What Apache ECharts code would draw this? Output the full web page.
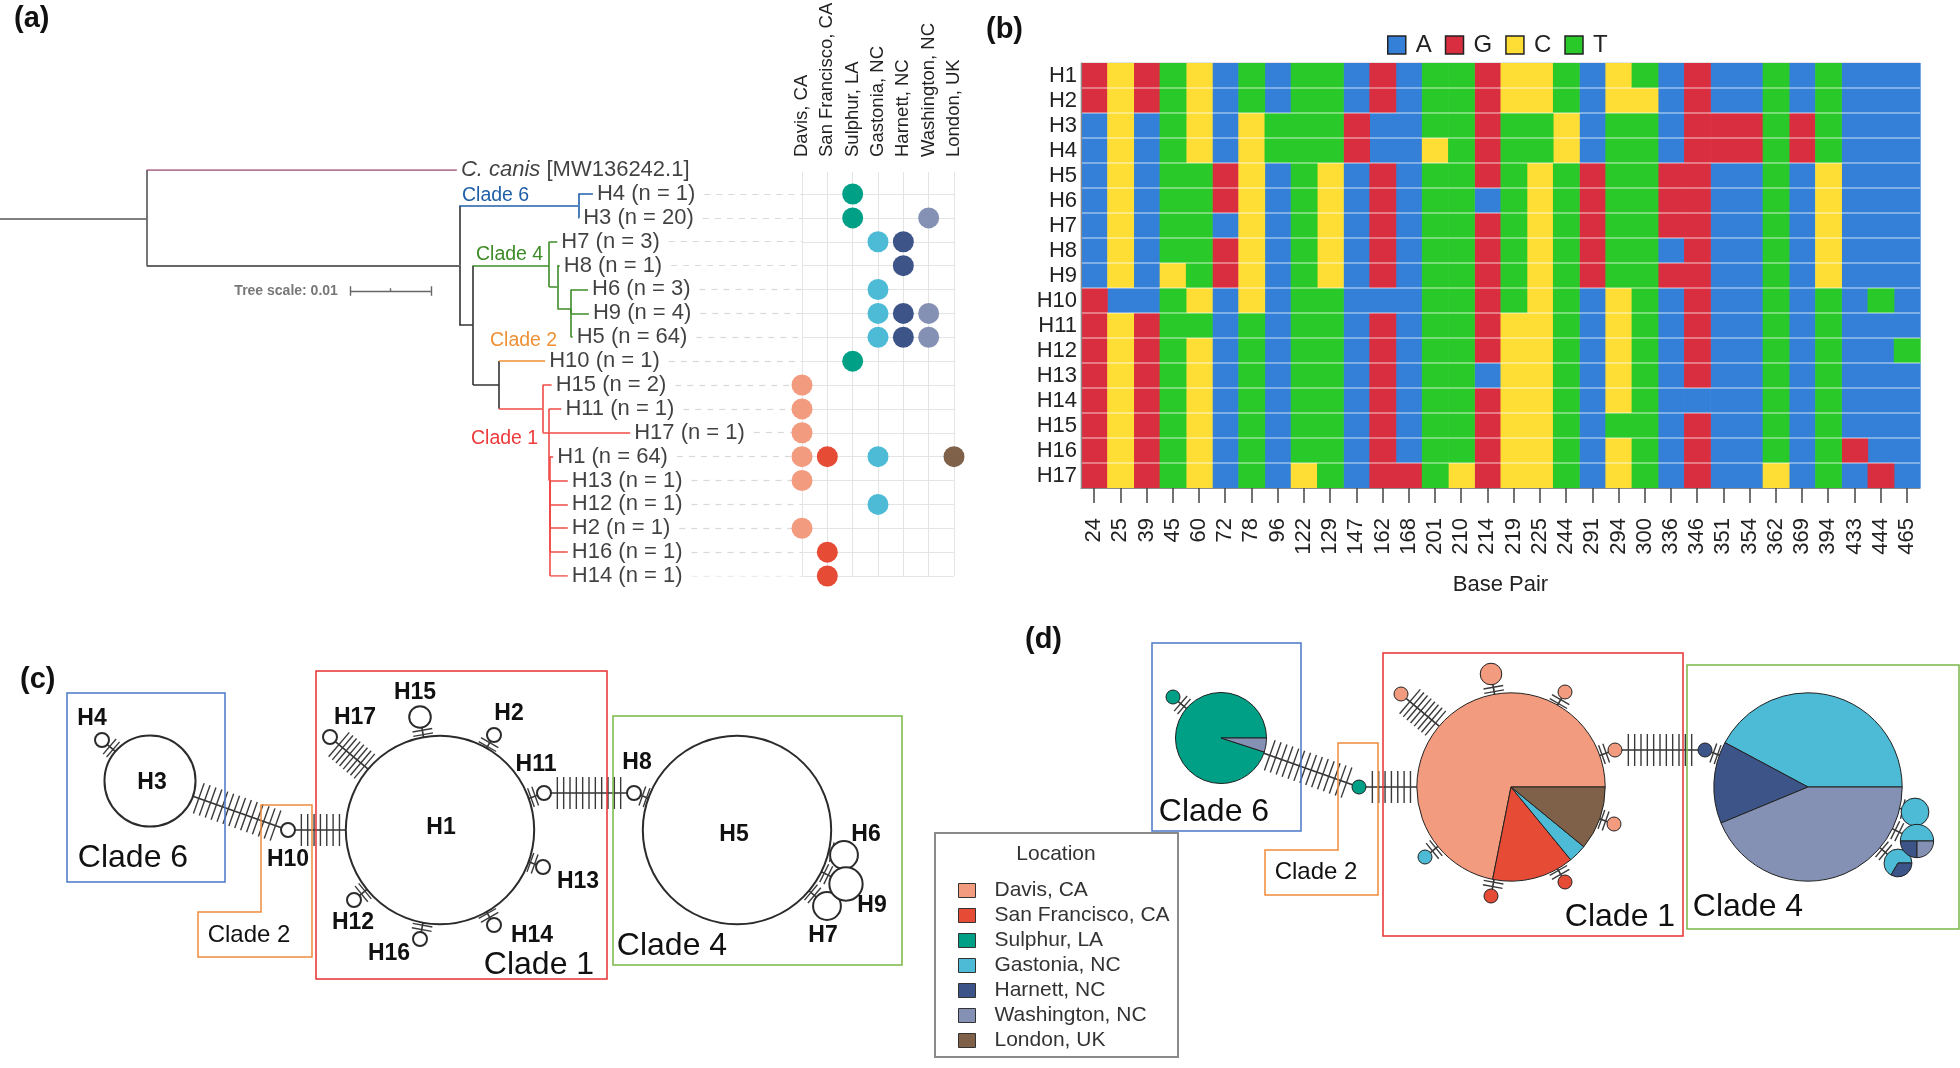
<!DOCTYPE html>
<html>
<head>
<meta charset="utf-8">
<script src="https://cdn.jsdelivr.net/npm/echarts@6/dist/echarts.min.js"></script>
<style>
html,body{margin:0;padding:0;background:#ffffff;}
#chart{width:1960px;height:1068px;}
</style>
</head>
<body>
<div id="chart"></div>
<script>
// ======================= DATA =======================
const hapIds = ['H1','H2','H3','H4','H5','H6','H7','H8','H9','H10','H11','H12','H13','H14','H15','H16','H17'];
const locations = ['Davis, CA','San Francisco, CA','Sulphur, LA','Gastonia, NC','Harnett, NC','Washington, NC','London, UK'];
// sample counts per haplotype (H1..H17) for each location
const davis        = [46,1,0,0,0,0,0,0,0,0,1,0,1,0,2,0,1];
const sanFrancisco = [9,0,0,0,0,0,0,0,0,0,0,0,0,1,0,1,0];
const sulphur      = [0,0,19,1,0,0,0,0,0,1,0,0,0,0,0,0,0];
const gastonia     = [2,0,0,0,27,3,2,0,2,0,0,1,0,0,0,0,0];
const harnett      = [0,0,0,0,9,0,1,1,1,0,0,0,0,0,0,0,0];
const washington   = [0,0,1,0,28,0,0,0,1,0,0,0,0,0,0,0,0];
const london       = [7,0,0,0,0,0,0,0,0,0,0,0,0,0,0,0,0];
const locCounts = [davis, sanFrancisco, sulphur, gastonia, harnett, washington, london];

// order of tips in the tree / dot plot
const tipOrder = ['H4','H3','H7','H8','H6','H9','H5','H10','H15','H11','H17','H1','H13','H12','H2','H16','H14'];

// variable sites (panel b)
const basePositions = ['24','25','39','45','60','72','78','96','122','129','147','162','168','201','210','214','219','225','244','291','294','300','336','346','351','354','362','369','394','433','444','465'];
const bases = ['A','G','C','T'];
const alignment = [
  'GCGTCATATTAGATTGCCTACTAGAATATAAA', // H1
  'GCGTCATATTAGATTGCCTACCAGAATATAAA', // H2
  'ACATCACTTTGAATTGTTCATTAGGGTGTAAA', // H3
  'ACATCACTTTGAACTGTTCATTAGGGTGTAAA', // H4
  'ACATTGCATCAGATTGTCTGTTGGAATACAAA', // H5
  'ACATTGCATCAGATTATCTGTTGGAATACAAA', // H6
  'ACATTACATCAGATTGTCTGTTGGAATACAAA', // H7
  'ACATTGCATCAGATTGTCTGTTAGAATACAAA', // H8
  'ACACTGCATCAGATTGTCTGTTGGAATACAAA', // H9
  'GAATCACATTAAATTGTCTACTAGAATATATA', // H10
  'GCGTTATATTAGATTGCCTACTAGAATATAAA', // H11
  'GCGTCATATTAGATTGCCTACTAGAATATAAT', // H12
  'GCGTCATATTAGATTACCTACTAGAATATAAA', // H13
  'GCGTCATATTAGATTGCCTACTAAAATATAAA', // H14
  'GCGTCATATTAGATTGCCTATTAGAATATAAA', // H15
  'GCGTCATATTAGATTGCCTACTAGAATATGAA', // H16
  'GCGTCATACTAGGTCGCCTACTAGAACATAGA'  // H17
];

// phylogenetic tree (panel a): node, parent, depth (subst./site), row, clade
const treeNode   = ['root','N1','C. canis','N2','N6','H4','H3','N3','N4','H7','N4b','H8','N4c','H6','H9','H5','N5','H10','Nc1','H15','Nc1b','H11','H17','Nc1c','H1','H13','H12','H2','H16','H14'];
const treeParent = [null,'root','N1','N1','N2','N6','N6','N2','N3','N4','N4','N4b','N4b','N4c','N4c','N4c','N3','N5','N5','Nc1','Nc1','Nc1b','Nc1b','Nc1b','Nc1c','Nc1c','Nc1c','Nc1c','Nc1c','Nc1c'];
const treeDepth  = [0,0.0181,0.0564,0.0567,0.0714,0.0732,0.0715,0.0584,0.0678,0.0688,0.0688,0.0691,0.0705,0.0726,0.0727,0.0707,0.0616,0.0673,0.0670,0.0681,0.0678,0.0693,0.0778,0.0679,0.0683,0.0701,0.0701,0.0701,0.0701,0.0701];
const treeRow    = [1.05,1.05,-1,3.0,0.5,0,1,5.5,3.0,2,3.9,3,4.8,4,5,6,8.0,7,9.0,8,10,9,10,12,11,12,13,14,15,16];
const treeClade  = ['root','root','out','base','c6','c6','c6','base','c4','c4','c4','c4','c4','c4','c4','c4','base','c2','c1','c1','c1','c1','c1','c1','c1','c1','c1','c1','c1','c1'];
const outgroupAccession = 'MW136242.1';
const treeScaleLength = 0.01;

// haplotype networks (panels c, d): layout of H1..H17 relative to H1
const netX = [0,54,-290,-338,297,404,387,194,406,-152,104,-86,103,54,-20,-20,-110];
const netY = [0,-95,-49,-90,0,25,76,-37,54,0,-37,70,37,95,-113,109,-93];
const netEdgeFrom      = ['H4','H3','H10','H17','H15','H2','H11','H13','H14','H16','H12','H11','H8','H6','H9','H7'];
const netEdgeTo        = ['H3','H10','H1','H1','H1','H1','H1','H1','H1','H1','H1','H8','H5','H5','H5','H5'];
const netEdgeMutations = [2,14,7,8,2,2,2,2,2,2,2,11,2,2,2,2];

// ======================= STYLE =======================
const FONT = '"Liberation Sans", Arial, Helvetica, sans-serif';
const locColors = ['#F39B7F','#E64B35','#00A087','#4DBBD5','#3C5488','#8491B4','#7E6148'];
const baseColors = {A:'#3480D8', G:'#D82E3F', C:'#FEDE35', T:'#2AC92A'};
const cladeColor = {root:'#555555', out:'#9b4d72', base:'#333333', c6:'#1f5fa8', c4:'#3d8b27', c2:'#ef9035', c1:'#ef4b46'};
const netLabelDX = [1,15,2,-10,-3,22,-4,3,26,0,-8,-1,35,38,-5,-31,25];
const netLabelDY = [-2,-21,2,-21,5,-20,30,-30,22,30,-28,23,15,11,-24,15,-19];

const hapTotal = hapIds.map((h,i)=>locCounts.reduce((s,a)=>s+a[i],0));
const nodeRadius = n => 7*Math.pow(n,0.625);
const hIdx = h => hapIds.indexOf(h);
const tIdx = n => treeNode.indexOf(n);

// ======================= BUILD =======================
const chart = echarts.init(document.getElementById('chart'), null, {renderer:'canvas', width:1960, height:1068});

const G = o => Object.assign({containLabel:false, outerBoundsMode:'none', show:false}, o);

// tree segments
const treeSegs = [];
treeNode.forEach((n,i)=>{
  const p = treeParent[i]; if (p == null) return;
  const pi = tIdx(p);
  treeSegs.push({coords:[[treeDepth[pi],treeRow[pi]],[treeDepth[pi],treeRow[i]]], lineStyle:{color:cladeColor[treeClade[pi]]}});
  treeSegs.push({coords:[[treeDepth[pi],treeRow[i]],[treeDepth[i],treeRow[i]]], lineStyle:{color:cladeColor[treeClade[i]]}});
});
const hasChild = n => treeParent.indexOf(n) >= 0;
const tipNodes = treeNode.filter(n => n !== 'root' && !hasChild(n));
const tipLabel = n => n === 'C. canis' ? '{i|C. canis} [' + outgroupAccession + ']' : n + ' (n = ' + hapTotal[hIdx(n)] + ')';
const tipPlain = n => n === 'C. canis' ? 'C. canis [' + outgroupAccession + ']' : n + ' (n = ' + hapTotal[hIdx(n)] + ')';

// tree scale bar
const sbX = 0.0432, sbRow = 4.07;
const scaleSegs = [
  {coords:[[sbX,sbRow],[sbX+treeScaleLength,sbRow]]},
  {coords:[[sbX,sbRow-0.2],[sbX,sbRow+0.2]]},
  {coords:[[sbX+treeScaleLength,sbRow-0.2],[sbX+treeScaleLength,sbRow+0.2]]},
  {coords:[[sbX+treeScaleLength/2,sbRow-0.12],[sbX+treeScaleLength/2,sbRow]]}
];

// heatmap cells
const cellSeries = bases.map(b=>{
  const data = [];
  alignment.forEach((seq,r)=>{ for (let c=0;c<seq.length;c++) if (seq[c]===b) data.push([c,r]); });
  return {
    type:'custom', name:b, xAxisIndex:3, yAxisIndex:3, silent:true, z:2,
    itemStyle:{color:baseColors[b]},
    data,
    renderItem:(params, api)=>{
      const p = api.coord([api.value(0), api.value(1)]);
      const s = api.size([1,1]);
      return {type:'rect', shape:{x:p[0]-s[0]/2, y:p[1]-s[1]/2, width:s[0]+0.6, height:s[1]}, style:{fill:api.visual('color')}};
    }
  };
});
const sepSeries = {
  type:'custom', name:'rowSep', xAxisIndex:3, yAxisIndex:3, silent:true, z:3,
  data: hapIds.slice(1).map((h,i)=>[0,i+1]),
  renderItem:(params, api)=>{
    const r = api.value(1);
    const a = api.coord([0,r]), b = api.coord([basePositions.length-1,r]);
    const s = api.size([1,1]);
    return {type:'line', shape:{x1:a[0]-s[0]/2, y1:a[1]-s[1]/2, x2:b[0]+s[0]/2, y2:a[1]-s[1]/2}, style:{stroke:'rgba(255,255,255,0.5)', lineWidth:1.5}};
  }
};

// dot plot
const dotSeries = locations.map((loc,j)=>({
  type:'scatter', name:loc, xAxisIndex:2, yAxisIndex:2, silent:true, z:4,
  symbol:'circle', symbolSize:21, itemStyle:{color:locColors[j], opacity:1},
  data: tipOrder.filter(h=>locCounts[j][hIdx(h)]>0).map(h=>[loc,h])
}));

// network edges with mutation ticks
function edgeSeries(ax){
  return {
    type:'custom', name:'edges'+ax, xAxisIndex:ax, yAxisIndex:ax, silent:true, z:1,
    data: netEdgeFrom.map((f,i)=>[i,0]),
    renderItem:(params, api)=>{
      const i = api.value(0);
      const a = hIdx(netEdgeFrom[i]), b = hIdx(netEdgeTo[i]);
      const pa = api.coord([netX[a],netY[a]]), pb = api.coord([netX[b],netY[b]]);
      const ra = nodeRadius(hapTotal[a]), rb = nodeRadius(hapTotal[b]);
      const dx = pb[0]-pa[0], dy = pb[1]-pa[1], L = Math.hypot(dx,dy);
      const ux = dx/L, uy = dy/L;
      const s = [pa[0]+ux*ra, pa[1]+uy*ra];
      const seg = Math.max(L-ra-rb, 0);
      const e = [s[0]+ux*seg, s[1]+uy*seg];
      const k = netEdgeMutations[i];
      const half = k>=5 ? 16 : 10;
      const sp = Math.max(seg/(k+1), 4.5);
      const ch = [{type:'line', shape:{x1:s[0],y1:s[1],x2:e[0],y2:e[1]}, style:{stroke:'#333', lineWidth:1.6}}];
      for (let j=1;j<=k;j++){
        const t = seg/2 + (j-(k+1)/2)*sp;
        const cx = s[0]+ux*t, cy = s[1]+uy*t;
        ch.push({type:'line', shape:{x1:cx-uy*half, y1:cy+ux*half, x2:cx+uy*half, y2:cy-ux*half}, style:{stroke:'#3a3a3a', lineWidth:1.4}});
      }
      return {type:'group', children:ch};
    }
  };
}

// network (c): open circles
const netCSeries = {
  type:'scatter', name:'netC', xAxisIndex:4, yAxisIndex:4, silent:true, z:3,
  symbol:'circle',
  symbolSize: v => 2*nodeRadius(v[2]),
  itemStyle:{color:'#ffffff', borderColor:'#2b2b2b', borderWidth:2, opacity:1},
  label:{show:true, position:'inside', formatter:p=>p.value[3], fontFamily:FONT, fontWeight:'bold', fontSize:23, color:'#111'},
  data: hapIds.map((h,i)=>({value:[netX[i],netY[i],hapTotal[i],h], label:{offset:[netLabelDX[i],netLabelDY[i]]}}))
};

// text helpers
const T = (x,y,text,size,fill,opts={}) => ({type:'text', x, y, silent:true, z:50,
  style:Object.assign({text, fill, fontSize:size, fontFamily:FONT, fontWeight:opts.weight||'normal',
    align:opts.align||'left', verticalAlign:'middle', textAlign:opts.align||'left', textVerticalAlign:'middle'}, {})});
const R = (x,y,w,h,stroke,lw=1.5) => ({type:'rect', shape:{x,y,width:w,height:h}, silent:true, z:40, style:{fill:'none', stroke, lineWidth:lw}});
const P = (pts,stroke) => ({type:'polygon', shape:{points:pts}, silent:true, z:40, style:{fill:'none', stroke, lineWidth:1.5}});

const graphics = [
  T(14,19,'(a)',29,'#111',{weight:'bold'}),
  T(986,30,'(b)',29,'#111',{weight:'bold'}),
  T(20,680,'(c)',29,'#111',{weight:'bold'}),
  T(1025,640,'(d)',29,'#111',{weight:'bold'}),
  // clade labels on the tree
  T(462,196,'Clade 6',19.5,cladeColor.c6),
  T(476,255,'Clade 4',19.5,cladeColor.c4),
  T(490,341,'Clade 2',19.5,cladeColor.c2),
  T(471,439,'Clade 1',19.5,'#ee3a3a'),
  // panel c boxes
  R(67,693,158,189,'#4a78c8'),
  P([[261,805],[312,805],[312,957],[198,957],[198,912],[261,912]],'#ef8a3a'),
  R(316,671,291,308,'#e83030'),
  R(613,716,289,249,'#7ab648'),
  T(133,858,'Clade 6',32,'#111',{align:'center'}),
  T(249,935,'Clade 2',24,'#111',{align:'center'}),
  T(539,965,'Clade 1',32,'#111',{align:'center'}),
  T(672,946,'Clade 4',32,'#111',{align:'center'}),
  // panel d boxes
  R(1152,643,149,188,'#4a78c8'),
  P([[1338,743],[1378,743],[1378,895],[1265,895],[1265,850],[1338,850]],'#ef8a3a'),
  R(1383,653,300,283,'#e83030'),
  R(1687,665,272,264,'#7ab648'),
  T(1214,812,'Clade 6',32,'#111',{align:'center'}),
  T(1316,872,'Clade 2',24,'#111',{align:'center'}),
  T(1620,917,'Clade 1',32,'#111',{align:'center'}),
  T(1748,907,'Clade 4',32,'#111',{align:'center'}),
  // location legend box
  R(935,833,243,224,'#8a8a8a',2),
  T(1056,854,'Location',21,'#333',{align:'center'})
];

const series = [
  {type:'lines', name:'tree', coordinateSystem:'cartesian2d', xAxisIndex:0, yAxisIndex:0, polyline:false, silent:true, z:3,
   lineStyle:{width:1.6, opacity:1}, data:treeSegs},
  {type:'scatter', name:'tips', xAxisIndex:0, yAxisIndex:0, silent:true, z:4, symbolSize:0.1, itemStyle:{color:'transparent'},
   label:{show:true, position:'right', distance:4, fontFamily:FONT, fontSize:22, color:'#111',
     formatter:p=>tipLabel(p.value[2]), rich:{i:{fontStyle:'italic', fontFamily:FONT, fontSize:22, color:'#111'}}},
   data: tipNodes.map(n=>[treeDepth[tIdx(n)], treeRow[tIdx(n)], n])},
  {type:'lines', name:'scalebar', coordinateSystem:'cartesian2d', xAxisIndex:0, yAxisIndex:0, silent:true, z:3,
   lineStyle:{width:1.4, opacity:1, color:'#666'}, data:scaleSegs},
  {type:'scatter', name:'scaleLabel', xAxisIndex:0, yAxisIndex:0, silent:true, z:4, symbolSize:0.1, itemStyle:{color:'transparent'},
   label:{show:true, position:'left', distance:12, formatter:'Tree scale: ' + treeScaleLength, fontFamily:FONT, fontWeight:'bold', fontSize:14, color:'#555'},
   data:[[sbX,sbRow]]},
  ...dotSeries,
  ...cellSeries,
  sepSeries,
  edgeSeries(4),
  netCSeries,
  edgeSeries(5)
];

const option = {
  animation:false,
  backgroundColor:'#ffffff',
  textStyle:{fontFamily:FONT},
  tooltip:{show:false},
  grid:[
    G({left:0, top:170, width:810, height:406}),
    G({left:802, top:172, width:152, height:404}),
    G({left:802, top:194, width:152, height:382}),
    G({left:1081, top:63, width:839, height:425, show:true, borderColor:'#c8c8c8', borderWidth:1, backgroundColor:'transparent'}),
    G({left:0, top:620, width:960, height:400}),
    G({left:920, top:620, width:1040, height:448})
  ],
  xAxis:[
    {gridIndex:0, type:'value', min:0, max:0.1, show:false},
    {gridIndex:1, type:'category', data:locations, boundaryGap:false, position:'top',
     axisLine:{show:false}, axisTick:{show:false},
     axisLabel:{rotate:90, margin:15, fontSize:18.5, color:'#222', fontFamily:FONT, interval:0},
     splitLine:{show:true, interval:0, lineStyle:{color:'#e4e4e4', width:1}}},
    {gridIndex:2, type:'category', data:locations, boundaryGap:false, show:false},
    {gridIndex:3, type:'category', data:basePositions, boundaryGap:true, z:10,
     axisLine:{show:true, lineStyle:{color:'#8a8a8a', width:1.2}},
     axisTick:{show:true, alignWithLabel:true, interval:0, length:15, lineStyle:{color:'#444', width:1.5}},
     axisLabel:{rotate:90, margin:30, interval:0, fontSize:22, color:'#222', fontFamily:FONT},
     splitLine:{show:false},
     name:'Base Pair', nameLocation:'middle', nameGap:86, nameTextStyle:{fontSize:22, color:'#222', fontFamily:FONT}},
    {gridIndex:4, type:'value', min:-440, max:520, show:false},
    {gridIndex:5, type:'value', min:-591, max:449, show:false}
  ],
  yAxis:[
    {gridIndex:0, type:'value', min:-1, max:16, inverse:true, show:false},
    {gridIndex:1, type:'value', min:0, max:1, show:false},
    {gridIndex:2, type:'category', data:tipOrder, inverse:true, boundaryGap:false,
     axisLine:{show:false}, axisTick:{show:false}, axisLabel:{show:false},
     splitLine:{show:true, interval:0, lineStyle:{color:'#e4e4e4', width:1}}},
    {gridIndex:3, type:'category', data:hapIds, inverse:true, z:10,
     axisLine:{show:true, lineStyle:{color:'#8a8a8a', width:1.2}}, axisTick:{show:false},
     axisLabel:{margin:4, fontSize:22, color:'#222', fontFamily:FONT, interval:0}, splitLine:{show:false}},
    {gridIndex:4, type:'value', min:-210, max:190, inverse:true, show:false},
    {gridIndex:5, type:'value', min:-167, max:281, inverse:true, show:false}
  ],
  legend:[
    {data:bases, left:1382, top:28, orient:'horizontal', icon:'rect', itemWidth:18, itemHeight:18, itemGap:13,
     selectedMode:false, textStyle:{fontSize:24, color:'#222', fontFamily:FONT, padding:[0,0,0,5]},
     itemStyle:{borderColor:'#222', borderWidth:1.5}},
    {data:locations, left:953, top:875, orient:'vertical', icon:'rect', itemWidth:17, itemHeight:14, itemGap:4,
     selectedMode:false, textStyle:{fontSize:21, color:'#333', fontFamily:FONT, padding:[0,0,0,14]},
     itemStyle:{borderColor:'#333', borderWidth:1}}
  ],
  graphic:{elements:graphics},
  series
};

chart.setOption(option);

// ---- second pass: leader lines and pies placed through the axes ----
const c0 = chart.convertToPixel({xAxisIndex:0, yAxisIndex:0}, [0,0]);
const c1 = chart.convertToPixel({xAxisIndex:0, yAxisIndex:0}, [treeScaleLength,0]);
const pxPerUnit = (c1[0]-c0[0]) / treeScaleLength;
const davisPx = chart.convertToPixel({xAxisIndex:2, yAxisIndex:2}, [locations[0], tipOrder[0]])[0];
const davisDepth = chart.convertFromPixel({xAxisIndex:0, yAxisIndex:0}, [davisPx, 0])[0];
const mctx = document.createElement('canvas').getContext('2d');
mctx.font = '22px "Liberation Sans"';
const leaderSegs = tipNodes.filter(n=>n!=='C. canis').map(n=>{
  const i = tIdx(n);
  const w = mctx.measureText(tipPlain(n)).width;
  const start = treeDepth[i] + (4 + w + 9)/pxPerUnit;
  return {coords:[[start, treeRow[i]],[davisDepth, treeRow[i]]]};
});
option.series.push({type:'lines', name:'leaders', coordinateSystem:'cartesian2d', xAxisIndex:0, yAxisIndex:0, silent:true, z:2,
  lineStyle:{width:1.2, opacity:1, color:'#d9d9d9', type:[6,6]}, data:leaderSegs});

hapIds.forEach((h,i)=>{
  const c = chart.convertToPixel({xAxisIndex:5, yAxisIndex:5}, [netX[i], netY[i]]);
  option.series.push({
    type:'pie', name:'pie'+h, center:c, radius:nodeRadius(hapTotal[i]), startAngle:0, clockwise:false,
    silent:true, z:3, animation:false, avoidLabelOverlap:false,
    label:{show:false}, labelLine:{show:false}, emphasis:{disabled:true},
    itemStyle:{borderColor:'#222', borderWidth:1},
    data: locations.map((loc,j)=>({name:loc, value:locCounts[j][i], itemStyle:{color:locColors[j]}})).filter(d=>d.value>0)
  });
});
chart.setOption(option, true);
</script>
</body>
</html>
